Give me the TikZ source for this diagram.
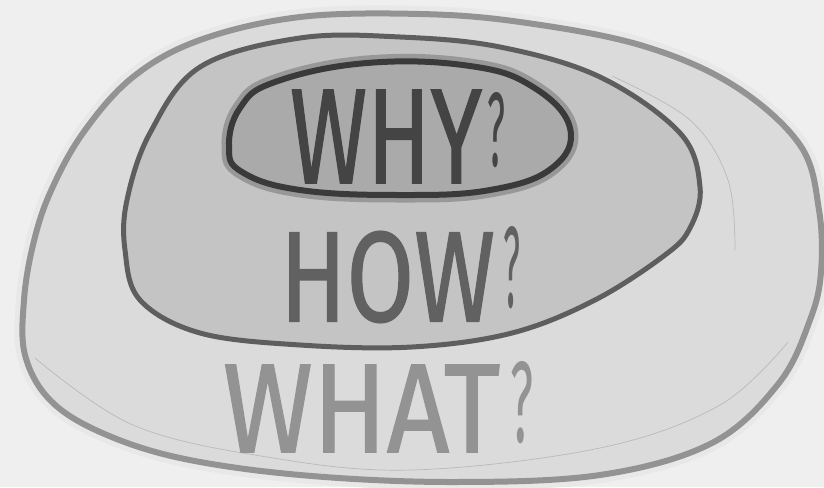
\documentclass[tikz,border=0pt]{standalone}
\usepackage{fontspec}
\usepackage{graphicx}
\usepackage{tikz}
\setmainfont{Fira Sans}
\newfontfamily\handfont[FakeBold=1.2]{Fira Sans}
\usetikzlibrary{
    positioning,
    calc
}
\definecolor{PaperGray}{RGB}{239,239,239}
\definecolor{HaloGray}{RGB}{232,232,232}
\definecolor{RingFill}{RGB}{219,219,219}
\definecolor{RingLine}{RGB}{147,147,147}
\definecolor{MidFill}{RGB}{196,196,196}
\definecolor{MidLine}{RGB}{94,94,94}
\definecolor{CoreFill}{RGB}{170,170,170}
\definecolor{CoreHalo}{RGB}{152,152,152}
\definecolor{CoreLine}{RGB}{58,58,58}
\definecolor{PencilGray}{RGB}{185,185,185}
\tikzset{
  blob/.style    = {line join=round, line cap=round},
  word/.style    = {inner sep=0pt, outer sep=0pt, anchor=center,
                    font=\handfont},
  qmark/.style   = {inner sep=0pt, outer sep=0pt, anchor=center,
                    font=\normalfont}
}
\newcommand{\fitword}[3]{\resizebox{#1}{#2}{#3}}

\begin{document}
\begin{tikzpicture}[x=1pt, y=-1pt]
\useasboundingbox (0,0) rectangle (824,487);
\fill[PaperGray] (0,0) rectangle (824,487);
% outer ring
\draw[blob, HaloGray, fill=HaloGray, line width=16pt] plot[smooth cycle, tension=0.6] coordinates {
  (50,193) (83,133) (133,77) (200,40) (300,17) (420,14) (520,22) (640,45)
  (733,85) (800,145) (819,210) (821,272) (810,320) (779,383) (712,443)
  (600,475) (450,482) (300,475) (180,458) (100,432) (50,400) (25,355) (24,300) (33,245)};
\draw[blob, RingLine, fill=RingFill, line width=6pt] plot[smooth cycle, tension=0.6] coordinates {
  (50,193) (83,133) (133,77) (200,40) (300,17) (420,14) (520,22) (640,45)
  (733,85) (800,145) (819,210) (821,272) (810,320) (779,383) (712,443)
  (600,475) (450,482) (300,475) (180,458) (100,432) (50,400) (25,355) (24,300) (33,245)};
% pencil strokes
\draw[PencilGray, line width=0.7pt] plot[smooth, tension=0.6] coordinates {
  (612,76) (690,120) (728,180) (735,250)};
\draw[PencilGray, line width=0.7pt] plot[smooth, tension=0.6] coordinates {
  (788,342) (720,405) (600,448) (412,470) (267,457) (133,425) (35,358)};
% middle blob
\draw[blob, MidLine, fill=MidFill, line width=5pt] plot[smooth cycle, tension=0.6] coordinates {
  (127,200) (150,133) (200,67) (300,38) (400,37) (500,47) (600,77) (680,133)
  (700,187) (690,228) (665,255) (595,300) (512,333) (412,347) (300,345)
  (200,333) (140,300) (125,250)};
% inner blob
\draw[blob, CoreHalo, line width=15pt] plot[smooth cycle, tension=0.7] coordinates {
  (229,147) (240,108) (275,82) (367,63) (470,66) (533,87) (570,128) (552,168)
  (490,190) (400,195) (300,190) (242,172)};
\draw[blob, CoreLine, fill=CoreFill, line width=6pt] plot[smooth cycle, tension=0.7] coordinates {
  (229,147) (240,108) (275,82) (367,63) (470,66) (533,87) (570,128) (552,168)
  (490,190) (400,195) (300,190) (242,172)};
% words
\node[word, text=CoreLine!85!gray] (why) at (386,136.5) {\fitword{192pt}{93pt}{WHY}};
\node[qmark, text=CoreLine!85!gray] (whyq) at (496,130) {\fitword{18pt}{74pt}{?}};
\node[word, text=MidLine!90!gray] (how) at (387.5,277) {\fitword{215pt}{90pt}{HOW}};
\node[qmark, text=MidLine!90!gray] (howq) at (511.5,267.5) {\fitword{17pt}{81pt}{?}};
\node[word, text=RingLine] (what) at (361.5,408.5) {\fitword{277pt}{87pt}{WHAT}};
\node[qmark, text=RingLine] (whatq) at (521.5,402.5) {\fitword{23pt}{81pt}{?}};
\end{tikzpicture}
\end{document}
